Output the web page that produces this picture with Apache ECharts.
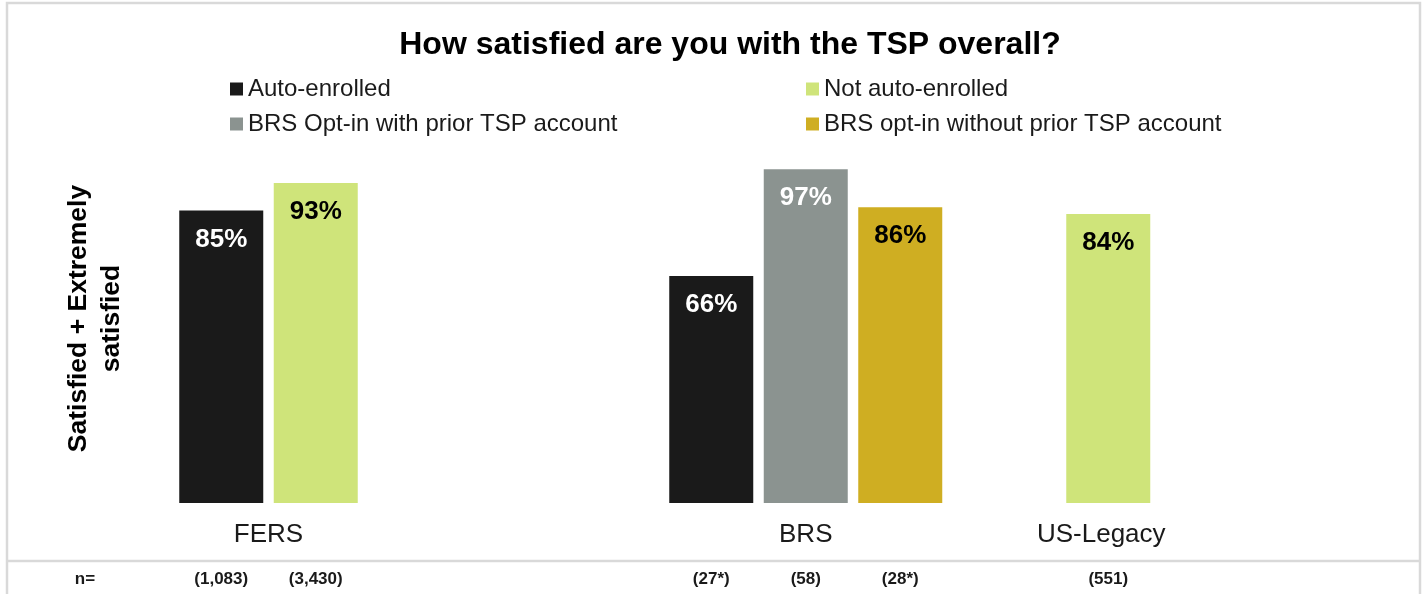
<!DOCTYPE html>
<html>
<head>
<meta charset="utf-8">
<script src="https://cdn.jsdelivr.net/npm/echarts@6/dist/echarts.min.js"></script>
<style>
html,body{margin:0;padding:0;background:#fff;}
#main{width:1427px;height:594px;}
</style>
</head>
<body>
<div id="main"></div>
<script>
// ---- data ----
const titleText = 'How satisfied are you with the TSP overall?';
const yAxisTitle = 'Satisfied + Extremely\nsatisfied';
const groups = ['FERS', 'BRS', 'US-Legacy'];
const seriesNames = ['Auto-enrolled', 'Not auto-enrolled', 'BRS Opt-in with prior TSP account', 'BRS opt-in without prior TSP account'];
const seriesColors = ['#1a1a1a', '#cfe47a', '#8b9390', '#cfae22'];
const labelColors = ['#ffffff', '#000000', '#ffffff', '#000000'];
// values per group (FERS, BRS, US-Legacy); null = no bar
const autoEnrolled      = [85, 66, null];
const notAutoEnrolled   = [93, null, 84];
const brsWithPrior      = [null, 97, null];
const brsWithoutPrior   = [null, 86, null];
// sample sizes per group
const nAutoEnrolled     = ['(1,083)', '(27*)', null];
const nNotAutoEnrolled  = ['(3,430)', null, '(551)'];
const nBrsWithPrior     = [null, '(58)', null];
const nBrsWithoutPrior  = [null, '(28*)', null];
const nPrefix = 'n=';

const values = [autoEnrolled, notAutoEnrolled, brsWithPrior, brsWithoutPrior];
const nValues = [nAutoEnrolled, nNotAutoEnrolled, nBrsWithPrior, nBrsWithoutPrior];

// ---- layout (pixels) ----
const gridTop = 159, gridBottom = 91;
const pitch = 94.5;
const groupLeft = [174, 664, 1061];
const nameShift = [0, 0, 14];

const grids = [], xAxes = [], yAxes = [], series = [];
groups.forEach((g, gi) => {
  const items = [];
  values.forEach((arr, si) => { if (arr[gi] != null) items.push(si); });
  grids.push({ left: groupLeft[gi], top: gridTop, bottom: gridBottom, width: pitch * items.length });
  xAxes.push({
    type: 'category', gridIndex: gi,
    data: items.map(si => nValues[si][gi]),
    axisLine: { show: false }, axisTick: { show: false }, splitLine: { show: false },
    axisLabel: { margin: 68, fontFamily: 'Liberation Sans, Arial, sans-serif', fontSize: 17, fontWeight: 'bold', color: '#1a1a1a' },
    name: g, nameLocation: 'middle', nameGap: 19, nameMoveOverlap: false,
    nameTextStyle: { fontFamily: 'Liberation Sans, Arial, sans-serif', fontSize: 26, color: '#1a1a1a', verticalAlign: 'top', padding: [0, nameShift[gi], 0, 0] }
  });
  yAxes.push({ type: 'value', gridIndex: gi, min: 0, max: 100, show: false, splitLine: { show: false } });
  items.forEach((si, k) => {
    series.push({
      type: 'bar', name: seriesNames[si], xAxisIndex: gi, yAxisIndex: gi,
      data: items.map((sj, kk) => kk === k ? values[si][gi] : '-'),
      barWidth: 84, barGap: '-100%',
      itemStyle: { color: seriesColors[si] },
      label: {
        show: true, position: 'insideTop', distance: 16,
        formatter: p => p.value + '%',
        fontFamily: 'Liberation Sans, Arial, sans-serif', fontSize: 26, fontWeight: 'bold',
        color: labelColors[si]
      },
      emphasis: { disabled: true }
    });
  });
});

const legendPos = [[230, 76], [806, 76], [230, 111], [806, 111]];
const legends = seriesNames.map((nm, i) => ({
  data: [nm], left: legendPos[i][0], top: legendPos[i][1], padding: 0,
  itemWidth: 13, itemHeight: 13, icon: 'rect', itemGap: 5,
  textStyle: { fontFamily: 'Liberation Sans, Arial, sans-serif', fontSize: 24, color: '#1a1a1a', lineHeight: 26 },
  selectedMode: false
}));

const chart = echarts.init(document.getElementById('main'), null, { renderer: 'canvas' });
chart.setOption({
  backgroundColor: '#ffffff',
  animation: false,
  title: {
    text: titleText, left: 730, top: 29, textAlign: 'center', padding: 0,
    textStyle: { fontFamily: 'Liberation Sans, Arial, sans-serif', fontSize: 32, fontWeight: 'bold', color: '#000' }
  },
  legend: legends,
  grid: grids,
  xAxis: xAxes,
  yAxis: yAxes,
  series: series,
  graphic: [
    { type: 'rect', shape: { x: 7, y: 3, width: 1413, height: 700 }, style: { fill: 'none', stroke: '#d9d9d9', lineWidth: 2.5 }, silent: true, z: -1 },
    { type: 'line', shape: { x1: 7, y1: 561, x2: 1420, y2: 561 }, style: { stroke: '#d9d9d9', lineWidth: 2.5 }, silent: true },
    { type: 'text', x: 95, y: 318.5, rotation: Math.PI / 2,
      style: { text: yAxisTitle, fontFamily: 'Liberation Sans, Arial, sans-serif', fontSize: 26.5, fontWeight: 'bold', fill: '#000', align: 'center', verticalAlign: 'middle', lineHeight: 33 }, silent: true },
    { type: 'text', x: 85, y: 579, 
      style: { text: nPrefix, fontFamily: 'Liberation Sans, Arial, sans-serif', fontSize: 17, fontWeight: 'bold', fill: '#1a1a1a', align: 'center', verticalAlign: 'middle' }, silent: true }
  ]
});
</script>
</body>
</html>
